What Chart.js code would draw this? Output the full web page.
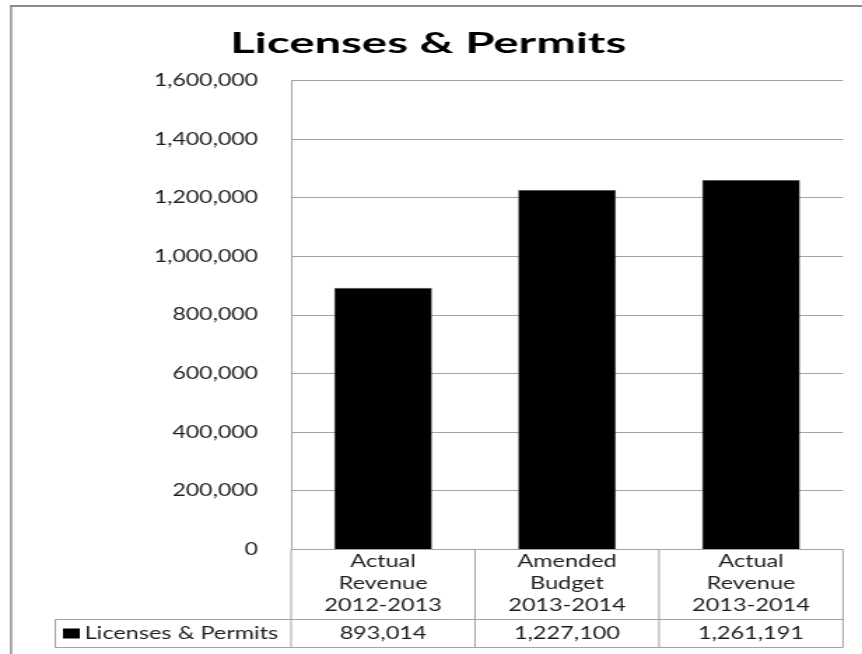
<!DOCTYPE html>
<html>
<head>
<meta charset="utf-8">
<script src="https://cdn.jsdelivr.net/npm/chart.js@4.4.1/dist/chart.umd.min.js"></script>
<style>
  html, body { margin: 0; padding: 0; background: #fff; overflow: hidden; }
  /* the chart is laid out narrow and stretched sideways, like the exported sheet */
  #wrap { width: 616px; height: 654px; transform: scale(1.3994, 1); transform-origin: 0 0; }
</style>
</head>
<body>
<div id="wrap"><canvas id="chart" width="616" height="654"></canvas></div>
<script>
const chartTitle = "Licenses & Permits";
const seriesName = "Licenses & Permits";
const categories = [
    ["Actual", "Revenue", "2012-2013"],
    ["Amended", "Budget", "2013-2014"],
    ["Actual", "Revenue", "2013-2014"]
];
const revenueValues = [893014, 1227100, 1261191];
const yMin = 0;
const yMax = 1600000;
const yStep = 200000;

const textColor = "#1e1e1e";
const lineColor = "#a3a3a3";
const fontFamily = "Lato, 'Open Sans', sans-serif";

const fmt = v => Number(v).toLocaleString("en-US");

// Frame, title and the data table under the plot
const tablePlugin = {
    id: "dataTable",
    afterDraw(chart) {
        const { ctx, chartArea, scales: { x } } = chart;
        const half = (x.getPixelForValue(1) - x.getPixelForValue(0)) / 2;
        const top = chartArea.bottom;
        const headerBottom = Math.round(top + 69.5) + 0.5;
        const rowBottom = Math.round(top + 97.5) + 0.5;
        const legendLeft = 39.5;

        ctx.save();

        // outer frame
        ctx.fillStyle = "#8a8a8a";
        ctx.fillRect(7.2, 5, 1.4, chart.height);
        ctx.fillRect(7.2, 5, chart.width, 2);

        // title, squeezed back so it is not stretched as much as the rest
        ctx.save();
        ctx.fillStyle = "#000";
        ctx.font = "bold 28px " + fontFamily;
        ctx.textAlign = "center";
        ctx.textBaseline = "alphabetic";
        const squeeze = 283 / ctx.measureText(chartTitle).width;
        ctx.translate(306, 53);
        ctx.scale(squeeze, 1);
        ctx.fillText(chartTitle, 0, 0);
        ctx.restore();

        // table grid
        ctx.strokeStyle = lineColor;
        ctx.lineWidth = 1;
        ctx.beginPath();
        ctx.moveTo(legendLeft, headerBottom);
        ctx.lineTo(chartArea.right, headerBottom);
        ctx.moveTo(legendLeft, rowBottom);
        ctx.lineTo(chartArea.right, rowBottom);
        ctx.moveTo(legendLeft, headerBottom);
        ctx.lineTo(legendLeft, rowBottom);
        ctx.moveTo(chartArea.left, top);
        ctx.lineTo(chartArea.left, rowBottom);
        categories.forEach((c, i) => {
            const edge = x.getPixelForValue(i) + half;
            ctx.moveTo(edge, top);
            ctx.lineTo(edge, rowBottom);
        });
        ctx.stroke();

        // category headers and values
        ctx.fillStyle = textColor;
        ctx.font = "16.8px " + fontFamily;
        ctx.textAlign = "center";
        ctx.textBaseline = "middle";
        categories.forEach((lines, i) => {
            const cx = x.getPixelForValue(i);
            lines.forEach((line, j) => {
                ctx.fillText(line, cx, top + 12.5 + j * 21.7);
            });
            ctx.fillText(fmt(revenueValues[i]), cx, top + 84);
        });

        // legend key
        ctx.fillStyle = "#000";
        ctx.fillRect(45, top + 79, 12, 10);
        ctx.fillStyle = textColor;
        ctx.textAlign = "left";
        ctx.fillText(seriesName, 60.5, top + 84);

        ctx.restore();
    }
};

const ctx = document.getElementById("chart");

let chart = new Chart(ctx, {
    type: "bar",
    data: {
        labels: categories,
        datasets: [{
            label: seriesName,
            data: revenueValues,
            backgroundColor: "#000000",
            borderColor: "#6e6e6e",
            borderWidth: 0.6,
            categoryPercentage: 1,
            barPercentage: 0.533
        }]
    },
    options: {
        responsive: false,
        animation: false,
        devicePixelRatio: 1,
        layout: {
            padding: { left: 0, right: 13.6, top: 80.7, bottom: 104.5 }
        },
        plugins: {
            legend: { display: false },
            title: { display: false },
            tooltip: { enabled: false }
        },
        scales: {
            x: {
                display: false,
                offset: true
            },
            y: {
                min: yMin,
                max: yMax,
                afterFit(scale) {
                    scale.width = 208;
                },
                ticks: {
                    stepSize: yStep,
                    padding: 23.6,
                    color: textColor,
                    font: { family: fontFamily, size: 16.5 },
                    callback: v => fmt(v)
                },
                grid: {
                    color: lineColor,
                    drawTicks: false
                },
                border: {
                    color: lineColor
                }
            }
        }
    },
    plugins: [tablePlugin]
});
</script>
</body>
</html>
